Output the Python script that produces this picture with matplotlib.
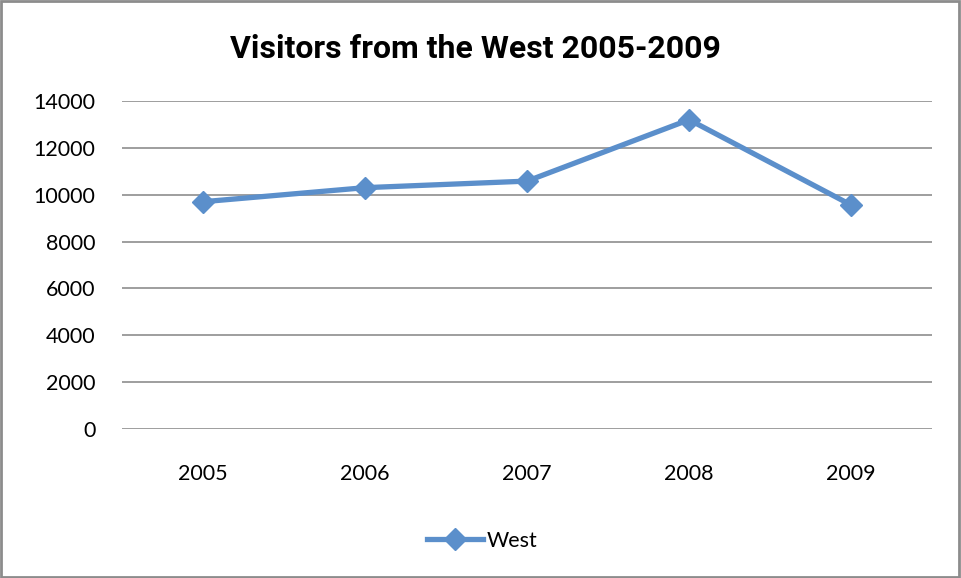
import matplotlib.pyplot as plt
from matplotlib.patches import Rectangle
from matplotlib.lines import Line2D

years = ["2005", "2006", "2007", "2008", "2009"]
west = [9700, 10300, 10580, 13200, 9560]
y_ticks = [0, 2000, 4000, 6000, 8000, 10000, 12000, 14000]

LINE_COLOR = "#5B8FCB"
LABEL_FONT = "Lato"

fig = plt.figure(figsize=(9.62, 5.78), dpi=100)
ax = fig.add_axes([0.1268, 0.2578, 0.8422, 0.5675])

x = range(len(years))
ax.plot(x, west, color=LINE_COLOR, linewidth=3.8, marker="D",
        markersize=11, markerfacecolor=LINE_COLOR, markeredgecolor=LINE_COLOR,
        solid_joinstyle="round", zorder=3)

ax.set_xlim(-0.5, len(years) - 0.5)
ax.set_ylim(0, 14000)
ax.set_yticks(y_ticks)
ax.set_yticklabels([str(v) for v in y_ticks], fontsize=15.5, family=LABEL_FONT)
ax.set_xticks(list(x))
ax.set_xticklabels(years, fontsize=15.5, family=LABEL_FONT)
ax.tick_params(axis="y", length=0, pad=19)
ax.tick_params(axis="x", length=0, pad=25)
ax.yaxis.grid(True, color="#969696", linewidth=1.3)
ax.set_axisbelow(True)
for s in ["top", "right", "left", "bottom"]:
    ax.spines[s].set_visible(False)

fig.text(0.494, 0.915, "Visitors from the West 2005-2009", ha="center", va="center",
         fontsize=23, fontweight="bold", family="Roboto")

handle = Line2D([], [], color=LINE_COLOR, linewidth=3.8, marker="D", markersize=11)
fig.legend([handle], ["West"], loc="center", bbox_to_anchor=(0.501, 0.064),
           frameon=False, prop={"family": LABEL_FONT, "size": 15.5},
           handlelength=2.6, handletextpad=0.15)

# outer chart border
fig.patches.append(Rectangle((0.001, 0.002), 0.996, 0.996, transform=fig.transFigure,
                             fill=False, edgecolor="#8C8C8C", linewidth=2))

fig.savefig("out.png", dpi=100)
